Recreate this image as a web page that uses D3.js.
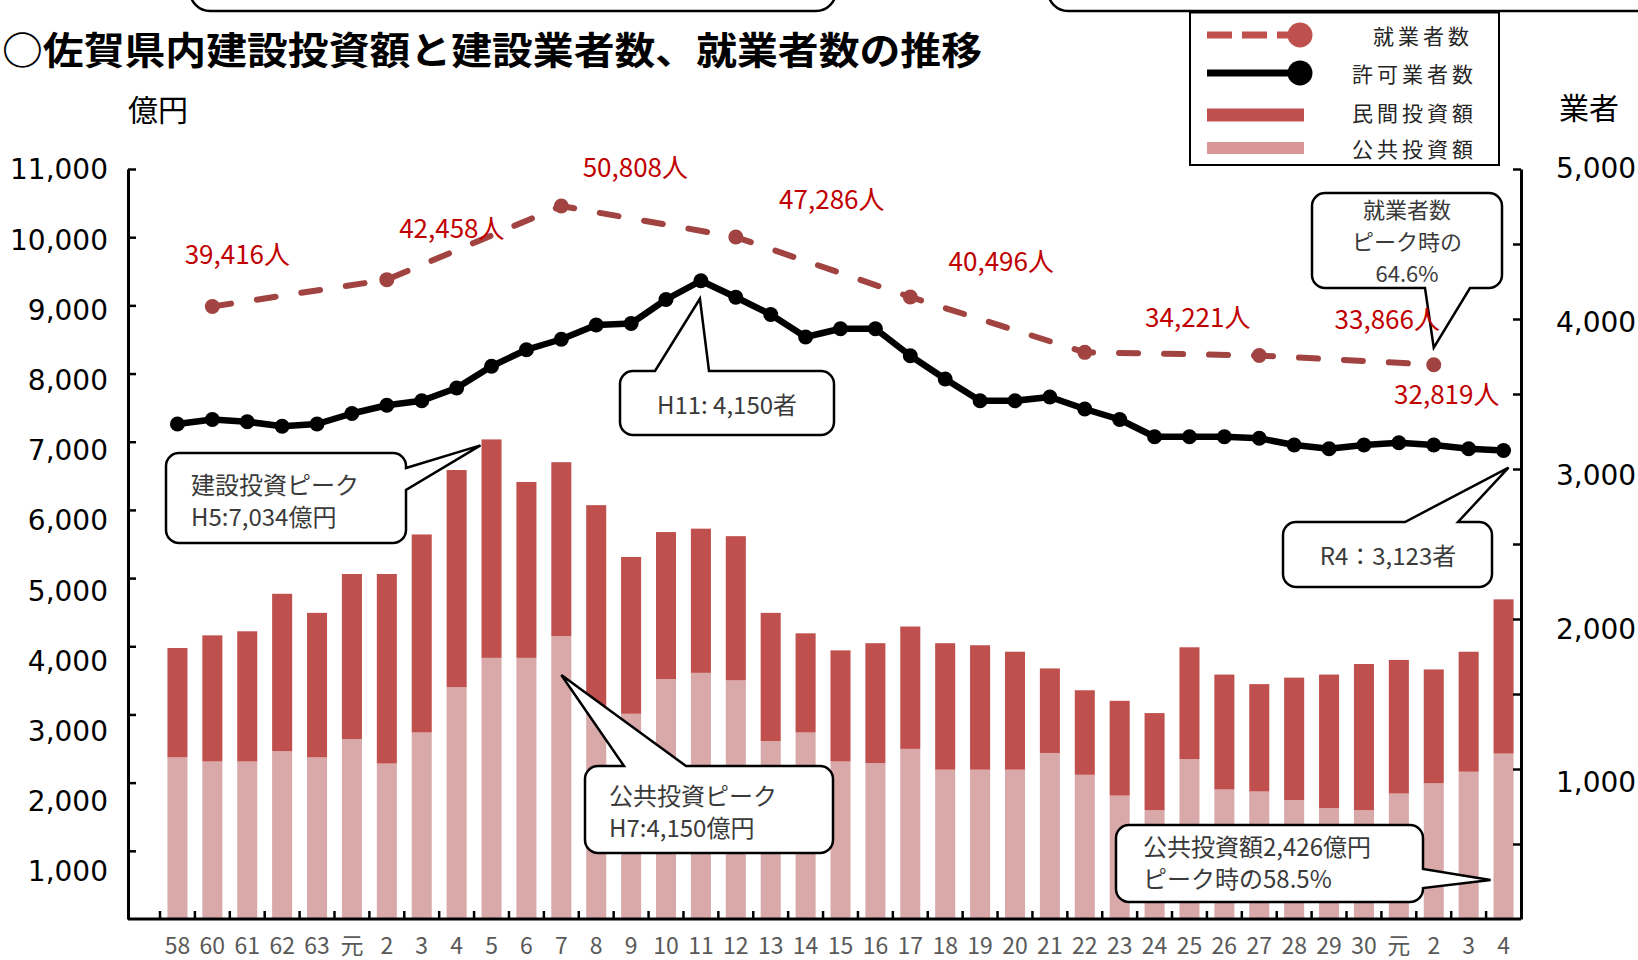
<!DOCTYPE html>
<html>
<head>
<meta charset="utf-8">
<script src="https://cdn.jsdelivr.net/npm/d3@7"></script>
<style>
  body { margin: 0; background: #fff; }
  svg { display: block; }
</style>
</head>
<body>
<div id="vis"></div>
<script>
const FRAME_WIDTH = 1638;
const FRAME_HEIGHT = 960;
const AXIS = {left: 128, right: 1521, top: 169, bottom: 919, firstBand: 160};

// 年度ラベル (S58〜R4)
const years = ["58","60","61","62","63","元","2","3","4","5","6","7","8","9","10","11","12",
  "13","14","15","16","17","18","19","20","21","22","23","24","25","26","27","28","29","30",
  "元","2","3","4"];

// 公共投資額 (億円)
const publicInv = [2370, 2310, 2310, 2460, 2370, 2640, 2280, 2735, 3400, 3830, 3830, 4150, 3100,
  3010, 3520, 3610, 3500, 2610, 2735, 2310, 2285, 2495, 2190, 2190, 2190, 2435, 2115, 1810, 1595,
  2345, 1900, 1870, 1745, 1625, 1595, 1840, 1990, 2160, 2426];

// 民間投資額 (億円)
const privateInv = [1605, 1850, 1910, 2310, 2120, 2420, 2780, 2905, 3185, 3204, 2580, 2550, 2970,
  2300, 2155, 2115, 2115, 1880, 1455, 1630, 1760, 1795, 1855, 1825, 1730, 1240, 1240, 1390, 1425,
  1640, 1685, 1575, 1795, 1960, 2145, 1960, 1670, 1760, 2262];

// 許可業者数
const licensed = [3300, 3330, 3315, 3285, 3300, 3370, 3425, 3455, 3540, 3685, 3795, 3865, 3960,
  3970, 4130, 4255, 4145, 4030, 3880, 3935, 3935, 3755, 3600, 3455, 3455, 3480, 3400, 3330, 3215,
  3215, 3215, 3205, 3160, 3135, 3160, 3175, 3160, 3135, 3123];

// 就業者数 (国勢調査年)
const censusIdx = [1, 6, 11, 16, 21, 26, 31, 36];
const workers = [39416, 42458, 50808, 47286, 40496, 34221, 33866, 32819];
const workerLabelOffsets = [[25,-54],[65,-53],[74,-40],[96,-40],[91,-37],[113,-37],[128,-38],[13,28]];

const leftTicks = d3.range(1000, 12000, 1000);
const rightTicks = d3.range(500, 5500, 500);

const RED = "#C0504D", PINK = "#D9A9AA", EMP = "#A14340", LABEL_RED = "#C00000";
const JP = "'Noto Sans CJK JP', 'Noto Sans', sans-serif";
const NUM = "'DejaVu Sans', sans-serif";

const svg = d3.select("#vis").append("svg")
  .attr("width", FRAME_WIDTH).attr("height", FRAME_HEIGHT);

const X = d3.scaleBand().domain(d3.range(years.length))
  .range([AXIS.firstBand, AXIS.right]).paddingInner(0.426).paddingOuter(0.213);
const Y_LEFT = d3.scaleLinear().domain([0, 11000]).range([AXIS.bottom, AXIS.top]);
const Y_RIGHT = d3.scaleLinear().domain([0, 5000]).range([AXIS.bottom, AXIS.top]);
const Y_EMP = d3.scaleLinear().domain([-30000, 55000]).range([AXIS.bottom, AXIS.top]);
const cx = i => X(i) + X.bandwidth() / 2;

// top boxes cut by the frame
svg.append("rect").attr("x", 190).attr("y", -40).attr("width", 646).attr("height", 51)
  .attr("rx", 20).attr("fill", "#fff").attr("stroke", "#000").attr("stroke-width", 2.5);
svg.append("rect").attr("x", 1048).attr("y", -40).attr("width", 660).attr("height", 51)
  .attr("rx", 20).attr("fill", "#fff").attr("stroke", "#000").attr("stroke-width", 2.5);

// title and units
svg.append("text").attr("x", 2).attr("y", 47).attr("dominant-baseline", "central")
  .attr("font-family", JP).attr("font-weight", 700).attr("font-size", 38)
  .attr("textLength", 980).attr("lengthAdjust", "spacingAndGlyphs")
  .text("○佐賀県内建設投資額と建設業者数、就業者数の推移");
svg.append("text").attr("x", 158).attr("y", 108).attr("text-anchor", "middle")
  .attr("dominant-baseline", "central").attr("font-family", JP).attr("font-size", 30).text("億円");
svg.append("text").attr("x", 1589).attr("y", 106).attr("text-anchor", "middle")
  .attr("dominant-baseline", "central").attr("font-family", JP).attr("font-size", 30).text("業者");

// bars
const bars = svg.append("g");
bars.selectAll(".pub").data(publicInv).enter().append("rect")
  .attr("x", (d, i) => X(i)).attr("width", X.bandwidth())
  .attr("y", d => Y_LEFT(d)).attr("height", d => AXIS.bottom - Y_LEFT(d))
  .attr("fill", PINK);
bars.selectAll(".pri").data(privateInv).enter().append("rect")
  .attr("x", (d, i) => X(i)).attr("width", X.bandwidth())
  .attr("y", (d, i) => Y_LEFT(d + publicInv[i]))
  .attr("height", d => Y_LEFT(0) - Y_LEFT(d))
  .attr("fill", RED);

// left axis
const gl = svg.append("g").attr("transform", `translate(${AXIS.left},0)`)
  .call(d3.axisLeft(Y_LEFT).tickValues(leftTicks).tickSizeInner(-8).tickSizeOuter(0)
    .tickPadding(20).tickFormat(d3.format(",")));
gl.select(".domain").attr("stroke-width", 3);
gl.selectAll(".tick line").attr("stroke-width", 2.5);
gl.selectAll(".tick text").attr("font-family", NUM).attr("font-size", 28).attr("fill", "#000")
  .attr("transform", d => `translate(0,${(11000 - d) / 10000 * 20 + 1})`);

// right axis
const gr = svg.append("g").attr("transform", `translate(${AXIS.right},0)`)
  .call(d3.axisRight(Y_RIGHT).tickValues(rightTicks).tickSizeInner(-8).tickSizeOuter(0)
    .tickPadding(35).tickFormat(d => d % 1000 === 0 ? d3.format(",")(d) : ""));
gr.select(".domain").attr("stroke-width", 3);
gr.selectAll(".tick line").attr("stroke-width", 2.5);
gr.selectAll(".tick text").attr("font-family", NUM).attr("font-size", 28).attr("fill", "#000")
  .attr("transform", d => `translate(0,${(5000 - d) / 4000 * 14})`);

// bottom axis
const gb = svg.append("g").attr("transform", `translate(0,${AXIS.bottom})`)
  .call(d3.axisBottom(X).tickSize(0).tickFormat(i => years[i]));
gb.select(".domain").remove();
gb.selectAll(".tick text").attr("font-family", JP).attr("font-size", 23).attr("fill", "#595959")
  .attr("y", 27).attr("dy", "0.35em");
svg.append("line").attr("x1", AXIS.left).attr("x2", AXIS.right)
  .attr("y1", AXIS.bottom).attr("y2", AXIS.bottom).attr("stroke", "#000").attr("stroke-width", 3);
svg.append("g").selectAll("line").data(d3.range(years.length)).enter().append("line")
  .attr("x1", i => X(i) - X.step() * X.paddingInner() / 2)
  .attr("x2", i => X(i) - X.step() * X.paddingInner() / 2)
  .attr("y1", AXIS.bottom).attr("y2", AXIS.bottom - 8)
  .attr("stroke", "#000").attr("stroke-width", 2.5);

// 許可業者数 line
svg.append("path").datum(licensed)
  .attr("d", d3.line().x((d, i) => cx(i)).y(d => Y_RIGHT(d)))
  .attr("fill", "none").attr("stroke", "#000").attr("stroke-width", 6.5).attr("stroke-linejoin", "round");
svg.append("g").selectAll("circle").data(licensed).enter().append("circle")
  .attr("cx", (d, i) => cx(i)).attr("cy", d => Y_RIGHT(d)).attr("r", 7.5).attr("fill", "#000");

// 就業者数 line
svg.append("path").datum(workers)
  .attr("d", d3.line().x((d, i) => cx(censusIdx[i])).y(d => Y_EMP(d)))
  .attr("fill", "none").attr("stroke", EMP).attr("stroke-width", 6)
  .attr("stroke-dasharray", "19,26").attr("stroke-linecap", "round");
svg.append("g").selectAll("circle").data(workers).enter().append("circle")
  .attr("cx", (d, i) => cx(censusIdx[i])).attr("cy", d => Y_EMP(d)).attr("r", 7.5).attr("fill", EMP);

// callouts
function calloutPath(b, side, p1, p2, tip) {
  const r = 13, x0 = b.x, y0 = b.y, x1 = b.x + b.w, y1 = b.y + b.h;
  let s = `M${x0 + r},${y0}`;
  if (side === "top") s += `L${p1},${y0}L${tip[0]},${tip[1]}L${p2},${y0}`;
  s += `L${x1 - r},${y0}A${r},${r} 0 0 1 ${x1},${y0 + r}`;
  if (side === "right") s += `L${x1},${p1}L${tip[0]},${tip[1]}L${x1},${p2}`;
  s += `L${x1},${y1 - r}A${r},${r} 0 0 1 ${x1 - r},${y1}`;
  if (side === "bottom") s += `L${p2},${y1}L${tip[0]},${tip[1]}L${p1},${y1}`;
  s += `L${x0 + r},${y1}A${r},${r} 0 0 1 ${x0},${y1 - r}L${x0},${y0 + r}A${r},${r} 0 0 1 ${x0 + r},${y0}Z`;
  return s;
}

const callouts = [
  {box: {x: 166, y: 453, w: 240, h: 90}, side: "right", p: [468, 490],
   tip: [X(9) - 1, Y_LEFT(publicInv[9] + privateInv[9]) + 6], size: 24,
   lines: ["建設投資ピーク", "H5:7,034億円"], anchor: "start", tx: 191, ty: [483, 515]},
  {box: {x: 620, y: 371, w: 214, h: 64}, side: "top", p: [655, 709],
   tip: [cx(15) - 1, Y_RIGHT(licensed[15]) + 18], size: 24,
   lines: ["H11: 4,150者"], anchor: "middle", tx: 727, ty: [403]},
  {box: {x: 1312, y: 193, w: 190, h: 95}, side: "bottom", p: [1425, 1470],
   tip: [cx(36), Y_EMP(workers[7]) - 17], size: 22,
   lines: ["就業者数", "ピーク時の", "64.6%"], anchor: "middle", tx: 1407, ty: [208, 240, 272]},
  {box: {x: 1283, y: 522, w: 209, h: 65}, side: "top", p: [1405, 1458],
   tip: [cx(38) + 5, Y_RIGHT(licensed[38]) + 17], size: 24,
   lines: ["R4：3,123者"], anchor: "middle", tx: 1388, ty: [554]},
  {box: {x: 585, y: 766, w: 248, h: 87}, side: "top", p: [624, 686],
   tip: [cx(11), Y_LEFT(publicInv[11]) + 39], size: 24,
   lines: ["公共投資ピーク", "H7:4,150億円"], anchor: "start", tx: 609, ty: [794, 826]},
  {box: {x: 1116, y: 825, w: 307, h: 77}, side: "right", p: [869, 888],
   tip: [X(38) - 3, 880], size: 24,
   lines: ["公共投資額2,426億円", "ピーク時の58.5%"], anchor: "start", tx: 1143, ty: [845, 877]}
];

const gc = svg.append("g");
callouts.forEach(c => {
  gc.append("path").attr("d", calloutPath(c.box, c.side, c.p[0], c.p[1], c.tip))
    .attr("fill", "#fff").attr("stroke", "#000").attr("stroke-width", 2.5)
    .attr("stroke-linejoin", "miter");
  c.lines.forEach((t, k) => {
    gc.append("text").attr("x", c.tx).attr("y", c.ty[k]).attr("text-anchor", c.anchor)
      .attr("dominant-baseline", "central").attr("font-family", JP).attr("font-size", c.size)
      .attr("fill", "#3a3a3a").text(t);
  });
});

// 就業者数 labels
svg.append("g").selectAll("text").data(workers).enter().append("text")
  .attr("x", (d, i) => cx(censusIdx[i]) + workerLabelOffsets[i][0])
  .attr("y", (d, i) => Y_EMP(d) + workerLabelOffsets[i][1])
  .attr("text-anchor", "middle").attr("dominant-baseline", "central")
  .attr("font-family", JP).attr("font-size", 26).attr("fill", LABEL_RED)
  .text(d => d3.format(",")(d) + "人");

// legend
const lg = svg.append("g");
lg.append("rect").attr("x", 1190).attr("y", 12.5).attr("width", 309).attr("height", 152.5)
  .attr("fill", "#fff").attr("stroke", "#000").attr("stroke-width", 2);
lg.append("line").attr("x1", 1207).attr("x2", 1300).attr("y1", 35).attr("y2", 35)
  .attr("stroke", RED).attr("stroke-width", 7).attr("stroke-dasharray", "25,10");
lg.append("circle").attr("cx", 1300).attr("cy", 35).attr("r", 12.5).attr("fill", RED);
lg.append("line").attr("x1", 1207).attr("x2", 1300).attr("y1", 73).attr("y2", 73)
  .attr("stroke", "#000").attr("stroke-width", 7);
lg.append("circle").attr("cx", 1300).attr("cy", 73).attr("r", 12.5).attr("fill", "#000");
lg.append("rect").attr("x", 1207).attr("y", 108.5).attr("width", 97).attr("height", 13).attr("fill", RED);
lg.append("rect").attr("x", 1207).attr("y", 142).attr("width", 97).attr("height", 12).attr("fill", "#DA9694");
[["就業者数", 1373, 35], ["許可業者数", 1352, 73], ["民間投資額", 1352, 112], ["公共投資額", 1352, 148]]
  .forEach(([t, x, y]) => {
    lg.append("text").attr("x", x).attr("y", y).attr("dominant-baseline", "central")
      .attr("font-family", JP).attr("font-size", 21).attr("letter-spacing", 4)
      .attr("fill", "#262626").text(t);
  });
</script>
</body>
</html>
